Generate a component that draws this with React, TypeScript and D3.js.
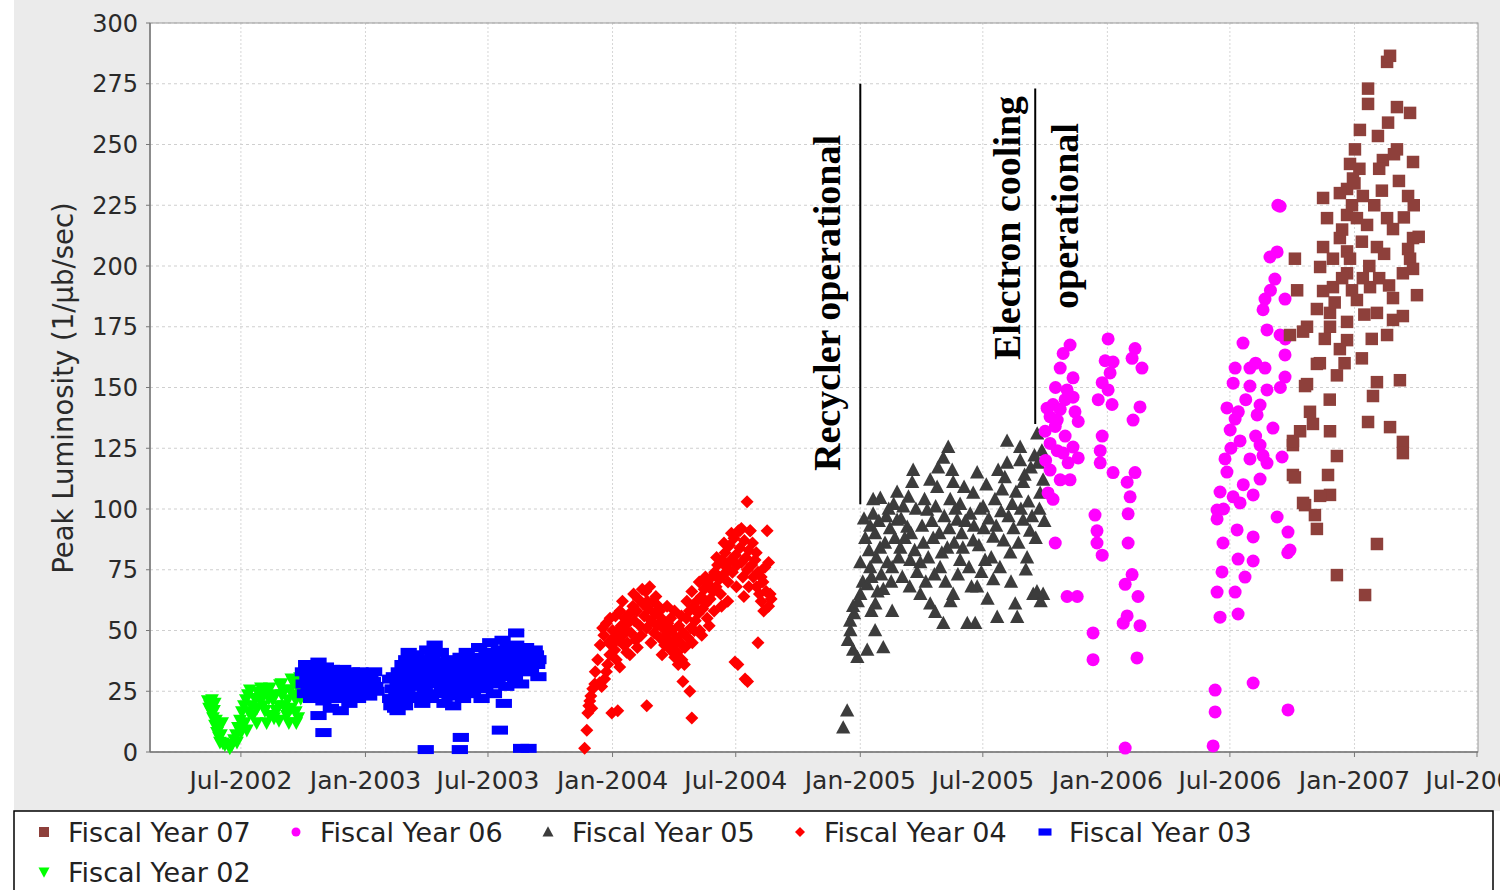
import React from "react";
import * as d3 from "d3";

// ---------- data (date as decimal year, peak luminosity) ----------
const tickLabels = ["Jul-2002", "Jan-2003", "Jul-2003", "Jan-2004", "Jul-2004", "Jan-2005", "Jul-2005", "Jan-2006", "Jul-2006", "Jan-2007", "Jul-2007"];
const yTicks = [0, 25, 50, 75, 100, 125, 150, 175, 200, 225, 250, 275, 300];
const seriesNames = ["Fiscal Year 07", "Fiscal Year 06", "Fiscal Year 05", "Fiscal Year 04", "Fiscal Year 03", "Fiscal Year 02"];
const yLabel = "Peak Luminosity (1/\u03bcb/sec)";

const fy02: [number, number][] = [
  [2002.362, 21], [2002.371, 19], [2002.375, 16.5], [2002.383, 14], [2002.391, 11], [2002.399, 8], [2002.407, 6], [2002.411, 4],
  [2002.367, 18], [2002.379, 21.5], [2002.387, 17], [2002.395, 13], [2002.403, 10], [2002.415, 7], [2002.423, 3.7],
  [2002.431, 3], [2002.451, 1.6], [2002.46, 3], [2002.468, 5],
  [2002.476, 7], [2002.484, 10], [2002.492, 13], [2002.5, 16.5], [2002.508, 19], [2002.516, 21.5], [2002.524, 23.5], [2002.532, 25.5],
  [2002.48, 4], [2002.496, 8], [2002.512, 12], [2002.528, 16.5], [2002.54, 19], [2002.553, 22], [2002.565, 24.5], [2002.577, 26.3],
  [2002.544, 15], [2002.561, 18], [2002.573, 21.5], [2002.589, 23.5], [2002.601, 25.5], [2002.613, 26.3], [2002.625, 21.5],
  [2002.638, 17], [2002.65, 19], [2002.662, 23.5], [2002.674, 25.5], [2002.686, 21.5], [2002.698, 18], [2002.71, 23.5],
  [2002.722, 27.6], [2002.735, 30.5], [2002.743, 29], [2002.593, 17], [2002.613, 15], [2002.633, 23.5], [2002.654, 27.6],
  [2002.67, 19], [2002.682, 15], [2002.694, 25.5], [2002.706, 29], [2002.718, 21.5], [2002.731, 25.5], [2002.743, 31.7],
  [2002.585, 19], [2002.609, 22], [2002.65, 13], [2002.682, 16.5], [2002.718, 16.5],
  [2002.6, 12], [2002.63, 14], [2002.66, 28], [2002.69, 12], [2002.72, 12], [2002.7, 30], [2002.56, 12], [2002.52, 9],
  [2002.39, 20], [2002.42, 12], [2002.738, 22], [2002.728, 14],
];

const fy03: [number, number][] = [
  [2002.747, 33], [2002.75, 28], [2002.755, 24], [2002.76, 36], [2002.765, 30], [2002.77, 26], [2002.775, 33], [2002.78, 22],
  [2002.785, 29], [2002.79, 35], [2002.795, 27], [2002.8, 31], [2002.805, 24], [2002.81, 37], [2002.815, 29], [2002.82, 33],
  [2002.825, 26], [2002.83, 21], [2002.835, 30], [2002.84, 35], [2002.845, 27], [2002.85, 32], [2002.855, 24], [2002.86, 29],
  [2002.865, 34], [2002.87, 27], [2002.875, 31], [2002.88, 22], [2002.885, 28], [2002.89, 33], [2002.895, 25], [2002.9, 30],
  [2002.905, 27], [2002.91, 34], [2002.915, 23], [2002.92, 29], [2002.925, 32], [2002.93, 26], [2002.935, 20], [2002.94, 30],
  [2002.945, 33], [2002.95, 28], [2002.955, 25], [2002.96, 31], [2002.965, 27], [2002.97, 22], [2002.975, 29], [2002.98, 33],
  [2002.985, 26], [2002.99, 30], [2002.995, 24], [2003.0, 28], [2003.005, 32], [2003.01, 27], [2003.015, 23], [2003.02, 30],
  [2003.025, 26], [2003.03, 29], [2003.035, 33], [2003.04, 27], [2003.045, 25],
  [2002.81, 15], [2002.83, 8], [2002.86, 18], [2002.9, 17],
  [2003.1, 30], [2003.1, 22], [2003.105, 19], [2003.11, 26], [2003.115, 31], [2003.12, 18], [2003.125, 24], [2003.13, 29],
  [2003.135, 33], [2003.14, 21], [2003.145, 26], [2003.15, 36], [2003.155, 30], [2003.16, 19], [2003.165, 38], [2003.17, 25],
  [2003.175, 41], [2003.18, 33], [2003.185, 22], [2003.19, 28], [2003.195, 36], [2003.2, 31], [2003.205, 40], [2003.21, 23],
  [2003.215, 27], [2003.22, 34], [2003.225, 38], [2003.23, 20], [2003.235, 30], [2003.24, 25], [2003.245, 36], [2003.25, 42],
  [2003.255, 33], [2003.26, 28], [2003.265, 22], [2003.27, 39], [2003.275, 31], [2003.28, 44], [2003.285, 35], [2003.29, 24],
  [2003.295, 29], [2003.3, 37], [2003.305, 41], [2003.31, 26], [2003.315, 32], [2003.32, 20], [2003.325, 35], [2003.33, 28],
  [2003.335, 38], [2003.34, 23], [2003.345, 31], [2003.35, 34], [2003.355, 19], [2003.36, 27], [2003.365, 36], [2003.37, 30],
  [2003.375, 25], [2003.38, 33], [2003.385, 39], [2003.39, 28], [2003.395, 22], [2003.4, 36], [2003.405, 31], [2003.41, 41],
  [2003.415, 26], [2003.42, 34], [2003.425, 29], [2003.43, 37], [2003.435, 24], [2003.44, 32], [2003.445, 39], [2003.45, 27],
  [2003.455, 35], [2003.46, 43], [2003.465, 30], [2003.47, 22], [2003.475, 38], [2003.48, 33], [2003.485, 26], [2003.49, 41],
  [2003.495, 36], [2003.5, 29], [2003.505, 45], [2003.51, 38], [2003.515, 32], [2003.52, 24], [2003.525, 40], [2003.53, 35],
  [2003.535, 28], [2003.54, 42], [2003.545, 37], [2003.55, 31], [2003.555, 46], [2003.56, 39], [2003.565, 34], [2003.57, 27],
  [2003.575, 43], [2003.58, 38], [2003.61, 49], [2003.59, 33], [2003.595, 41], [2003.6, 36], [2003.605, 30], [2003.61, 44],
  [2003.615, 39], [2003.62, 35], [2003.625, 42], [2003.63, 28], [2003.635, 37], [2003.64, 40], [2003.645, 33], [2003.65, 43],
  [2003.655, 38], [2003.66, 36], [2003.665, 41], [2003.67, 34], [2003.675, 39], [2003.68, 37], [2003.685, 42], [2003.69, 40],
  [2003.695, 36], [2003.7, 38], [2003.7, 31],
  [2003.244, 1], [2003.382, 1], [2003.386, 6], [2003.544, 9], [2003.63, 1.5], [2003.66, 1.5], [2003.56, 20], [2003.13, 17],
];

const fy04: [number, number][] = [
  [2003.887, 1.5], [2003.896, 9], [2003.9, 16], [2003.904, 19], [2003.908, 21], [2003.912, 23], [2003.916, 18], [2003.92, 26],
  [2003.928, 28], [2003.948, 28.5], [2003.956, 27], [2003.968, 30], [2003.96, 51], [2003.975, 33], [2003.98, 36], [2003.989, 40],
  [2003.997, 44], [2004.005, 47], [2004.009, 42], [2004.015, 38], [2004.021, 50], [2004.025, 46], [2004.029, 35], [2004.035, 52],
  [2004.041, 48], [2004.045, 44], [2004.049, 55], [2004.055, 50], [2004.057, 41], [2004.062, 53], [2004.069, 57], [2004.075, 49],
  [2004.082, 60], [2004.088, 54], [2004.094, 46], [2004.098, 58], [2004.104, 63], [2004.11, 52], [2004.116, 48], [2004.122, 61],
  [2004.128, 56], [2004.134, 66], [2004.138, 51], [2004.144, 59], [2004.15, 68], [2004.156, 54], [2004.163, 62], [2004.168, 49],
  [2004.171, 57], [2004.18, 52], [2004.185, 60], [2004.191, 47], [2004.197, 55], [2004.203, 51], [2004.21, 44], [2004.216, 48],
  [2004.223, 53], [2004.228, 46], [2004.234, 42], [2004.24, 50], [2004.246, 44], [2004.251, 39], [2004.257, 47], [2004.262, 41],
  [2004.268, 52], [2004.274, 45], [2004.28, 38], [2004.286, 49], [2004.292, 43], [2004.298, 55], [2004.304, 47], [2004.31, 58],
  [2004.316, 51], [2004.322, 45], [2004.328, 60], [2004.334, 54], [2004.34, 62], [2004.346, 57], [2004.352, 50], [2004.358, 64],
  [2004.364, 59], [2004.37, 67], [2004.376, 61], [2004.382, 55], [2004.388, 69], [2004.394, 63], [2004.4, 72], [2004.406, 66],
  [2004.412, 74], [2004.418, 68], [2004.424, 77], [2004.43, 71], [2004.436, 65], [2004.442, 79], [2004.448, 73], [2004.454, 82],
  [2004.46, 76], [2004.466, 70], [2004.472, 85], [2004.478, 79], [2004.484, 74], [2004.49, 88], [2004.496, 81], [2004.502, 77],
  [2004.508, 91], [2004.514, 84], [2004.52, 78], [2004.526, 72], [2004.532, 87], [2004.538, 80], [2004.544, 75], [2004.55, 83],
  [2004.556, 91], [2004.562, 77], [2004.568, 72], [2004.575, 79], [2004.581, 68], [2004.587, 74], [2004.593, 65], [2004.6, 62],
  [2004.607, 70], [2004.615, 76], [2004.624, 91], [2004.63, 60], [2004.636, 65], [2004.64, 63],
  [2003.997, 16], [2004.021, 17], [2004.138, 19], [2004.284, 29], [2004.312, 25], [2004.32, 14], [2004.494, 37], [2004.506, 36],
  [2004.535, 30], [2004.545, 29], [2004.587, 45], [2004.543, 103], [2004.514, 91], [2004.555, 91],
  [2003.93, 33], [2003.94, 38], [2003.95, 44], [2003.965, 48], [2003.975, 53], [2003.985, 45], [2003.99, 55], [2004.0, 50],
  [2004.012, 56], [2004.03, 58], [2004.04, 62], [2004.06, 45], [2004.07, 40], [2004.085, 65], [2004.1, 43], [2004.12, 67],
  [2004.14, 62], [2004.155, 45], [2004.175, 64], [2004.19, 58], [2004.2, 40], [2004.22, 60], [2004.235, 55], [2004.25, 58],
  [2004.265, 36], [2004.278, 56], [2004.29, 36], [2004.3, 62], [2004.32, 66], [2004.33, 50], [2004.35, 70], [2004.36, 48],
  [2004.375, 72], [2004.39, 52], [2004.41, 58], [2004.42, 80], [2004.44, 60], [2004.45, 86], [2004.465, 62], [2004.48, 90],
  [2004.5, 68], [2004.52, 92], [2004.53, 64], [2004.55, 68], [2004.565, 86], [2004.58, 82], [2004.6, 72], [2004.61, 58],
  [2004.62, 66], [2004.63, 78],
];

const fy05: [number, number][] = [
  [2004.931, 10], [2004.947, 17], [2004.988, 39], [2004.971, 42], [2004.95, 46], [2004.959, 54], [2004.971, 60], [2005.0, 65],
  [2005.028, 69], [2005.0, 78], [2005.04, 76], [2005.04, 93], [2005.052, 98], [2005.052, 104], [2005.081, 104.5], [2005.028, 42],
  [2005.093, 43], [2005.061, 61], [2005.093, 67], [2005.129, 58], [2005.129, 76], [2005.149, 95.5], [2005.149, 107], [2005.174, 101],
  [2005.19, 92.6], [2005.162, 84], [2005.202, 79], [2005.214, 116], [2005.21, 111], [2005.243, 78], [2005.243, 65], [2005.271, 99.6],
  [2005.283, 61], [2005.283, 112], [2005.311, 109], [2005.303, 57.6], [2005.336, 53], [2005.323, 76], [2005.356, 125.5], [2005.336, 121],
  [2005.315, 117], [2005.364, 104], [2005.372, 116], [2005.376, 111], [2005.352, 84], [2005.376, 65], [2005.392, 95.5], [2005.404, 79],
  [2005.404, 102], [2005.433, 53], [2005.465, 53], [2005.473, 115], [2005.457, 106.6], [2005.457, 87], [2005.473, 68], [2005.497, 101],
  [2005.505, 79], [2005.538, 88.5], [2005.538, 71], [2005.554, 55.5], [2005.558, 116], [2005.574, 108], [2005.594, 119], [2005.594, 128],
  [2005.615, 102], [2005.607, 82], [2005.627, 61], [2005.635, 55.5], [2005.647, 125.5], [2005.647, 120], [2005.659, 111], [2005.659, 95.5],
  [2005.675, 80], [2005.687, 91], [2005.7, 65], [2005.716, 131], [2005.72, 119], [2005.728, 106.6], [2005.74, 65],
  [2004.96, 50], [2004.975, 57], [2004.99, 62], [2005.01, 70], [2005.02, 88], [2005.035, 83], [2005.045, 72], [2005.06, 90],
  [2005.065, 80], [2005.075, 95], [2005.085, 73], [2005.1, 86], [2005.105, 97], [2005.11, 78], [2005.12, 92], [2005.125, 70],
  [2005.135, 102], [2005.14, 88], [2005.155, 80], [2005.165, 96], [2005.17, 72], [2005.18, 88], [2005.195, 105], [2005.2, 68],
  [2005.205, 90], [2005.22, 83], [2005.225, 100], [2005.23, 74], [2005.25, 93], [2005.255, 86], [2005.26, 104], [2005.265, 70],
  [2005.275, 80], [2005.29, 95], [2005.295, 88], [2005.3, 73], [2005.305, 101], [2005.32, 90], [2005.33, 82], [2005.34, 97],
  [2005.345, 70], [2005.36, 92], [2005.365, 62], [2005.38, 86], [2005.385, 100], [2005.395, 73], [2005.41, 90], [2005.415, 84],
  [2005.42, 109], [2005.425, 95], [2005.44, 76], [2005.445, 98], [2005.45, 68], [2005.46, 93], [2005.48, 85], [2005.485, 100],
  [2005.49, 74], [2005.5, 92], [2005.51, 110], [2005.515, 63], [2005.52, 96], [2005.53, 80], [2005.545, 104], [2005.55, 93],
  [2005.565, 76], [2005.57, 99], [2005.58, 87], [2005.585, 113], [2005.6, 97], [2005.61, 70], [2005.62, 92], [2005.63, 107],
  [2005.64, 86], [2005.65, 100], [2005.665, 114], [2005.67, 75], [2005.68, 103], [2005.69, 117], [2005.695, 97], [2005.705, 122],
  [2005.71, 88], [2005.725, 100], [2005.735, 124], [2005.74, 112], [2005.745, 95], [2005.73, 62], [2005.715, 66],
  [2005.015, 96], [2005.07, 66], [2005.045, 58], [2005.115, 100], [2005.06, 50], [2005.08, 84],
];

const fy06: [number, number][] = [
  [2005.849, 167.5], [2005.821, 164], [2005.809, 158], [2005.861, 154], [2005.837, 149], [2005.861, 146], [2005.756, 141.5], [2005.78, 143],
  [2005.809, 141], [2005.768, 138], [2005.797, 136.6], [2005.789, 134], [2005.882, 136], [2005.768, 127], [2005.797, 124], [2005.821, 123],
  [2005.861, 125.5], [2005.882, 121], [2005.841, 119], [2005.849, 112], [2005.76, 106.6], [2005.78, 104], [2005.789, 86], [2005.837, 64],
  [2005.878, 64], [2005.748, 132], [2005.829, 130], [2005.768, 116], [2005.809, 112], [2005.869, 140], [2005.829, 145], [2005.75, 120],
  [2005.79, 150],
  [2006.003, 170], [2005.991, 161], [2006.023, 160.5], [2006.011, 156], [2005.979, 152], [2006.003, 149], [2005.963, 145], [2006.019, 143],
  [2005.979, 130], [2005.971, 124], [2005.971, 119], [2006.023, 115], [2005.95, 97.5], [2005.958, 91], [2005.958, 86], [2005.979, 81],
  [2005.942, 49], [2005.942, 38], [2006.072, 1.6],
  [2006.112, 166], [2006.1, 162], [2006.14, 158], [2006.132, 142], [2006.104, 136.6], [2006.112, 115], [2006.08, 111], [2006.092, 105],
  [2006.084, 98], [2006.084, 86], [2006.1, 73], [2006.072, 69], [2006.124, 64], [2006.08, 56], [2006.064, 53], [2006.132, 52], [2006.12, 38.7],
  [2006.699, 224.6], [2006.687, 205.8], [2006.658, 203.7], [2006.678, 194.6], [2006.638, 186.4], [2006.719, 186.4], [2006.63, 182],
  [2006.646, 173.7], [2006.699, 171.6], [2006.719, 163.4], [2006.549, 168.3], [2006.517, 158], [2006.577, 158], [2006.638, 158],
  [2006.719, 154.3], [2006.509, 151.8], [2006.577, 150.6], [2006.646, 149], [2006.484, 141.6], [2006.618, 142.8], [2006.517, 137],
  [2006.606, 138.7], [2006.497, 132.5], [2006.67, 133.3], [2006.618, 126.3], [2006.537, 128], [2006.476, 120.6], [2006.577, 120.6],
  [2006.646, 118.9], [2006.707, 121.4], [2006.484, 115.2], [2006.618, 112.3], [2006.456, 107], [2006.509, 105], [2006.59, 105.8],
  [2006.444, 99.6], [2006.537, 102.5], [2006.444, 95.9], [2006.687, 96.7], [2006.525, 91.4], [2006.731, 90.5], [2006.468, 86],
  [2006.59, 88.5], [2006.739, 83.1], [2006.529, 79.4], [2006.59, 78.6], [2006.464, 74.1], [2006.557, 72], [2006.444, 65.8],
  [2006.517, 65.8], [2006.456, 55.5], [2006.529, 56.8], [2006.59, 28.4], [2006.436, 25.5], [2006.436, 16.5], [2006.731, 17.3],
  [2006.428, 2.5],
  [2006.69, 225], [2006.66, 190], [2006.6, 160], [2006.56, 145], [2006.53, 140], [2006.6, 130], [2006.63, 122], [2006.55, 110],
  [2006.5, 125], [2006.47, 100], [2006.7, 150], [2006.72, 170], [2006.73, 82],
];

const fy07: [number, number][] = [
  [2007.132, 284], [2007.144, 286.5], [2007.055, 273], [2007.055, 266.7], [2007.172, 265.4], [2007.225, 263], [2007.136, 259],
  [2007.022, 256], [2007.095, 253.5], [2007.002, 248], [2007.172, 248], [2007.115, 243.6], [2007.237, 242.8], [2006.982, 242],
  [2006.994, 236], [2006.97, 231.7], [2006.873, 228], [2006.941, 230], [2007.034, 228.8], [2007.111, 231], [2007.217, 228.8],
  [2006.889, 219.7], [2006.97, 221], [2007.01, 219.7], [2007.051, 216.9], [2007.132, 219.7], [2007.156, 215.2], [2006.941, 211.5],
  [2007.237, 211.5], [2006.873, 207.8], [2006.97, 206], [2007.091, 207.8], [2007.217, 207], [2006.913, 203], [2006.982, 203],
  [2006.861, 199.6], [2007.225, 203], [2006.97, 197], [2007.034, 195], [2007.196, 197], [2007.237, 198.8], [2006.873, 189.7],
  [2006.913, 191.3], [2007.063, 191.3], [2007.01, 186], [2007.156, 186.8], [2007.253, 188], [2006.848, 182.3], [2006.901, 180.7],
  [2007.091, 180.7], [2007.156, 177.8], [2007.196, 179.4], [2006.808, 175], [2006.901, 175], [2006.97, 177], [2007.132, 171.6],
  [2006.739, 171.6], [2006.97, 169.5], [2006.941, 165.8], [2006.848, 159.7], [2006.929, 155], [2006.808, 151.4], [2007.091, 152.2],
  [2007.184, 153], [2007.075, 146.5], [2007.055, 135.8], [2007.144, 133.7], [2007.196, 127.6], [2007.196, 123], [2006.832, 135],
  [2006.78, 132], [2006.901, 132], [2006.751, 126.3], [2006.929, 121.8], [2006.751, 114], [2006.893, 114], [2006.901, 105.8],
  [2006.861, 105.4], [2006.8, 101.6], [2006.84, 97.5], [2006.848, 91.8], [2007.091, 85.6], [2006.929, 72.8], [2007.043, 64.6],
  [2006.759, 203], [2006.768, 190], [2006.792, 173], [2006.8, 150.6], [2006.751, 128], [2006.759, 113], [2006.792, 102.5],
  [2006.95, 215], [2006.99, 225], [2007.02, 240], [2007.03, 210], [2007.06, 200], [2007.08, 225], [2007.1, 240], [2007.12, 205],
  [2007.18, 235], [2007.2, 220], [2006.92, 185], [2006.95, 195], [2007.04, 180], [2007.07, 170], [2006.88, 170], [2006.86, 160],
  [2006.9, 145], [2006.82, 140], [2007.1, 195], [2007.14, 192], [2007.24, 225], [2007.26, 212], [2007.16, 246], [2007.0, 234],
  [2006.96, 160], [2006.99, 190], [2007.03, 162],
];

// annotations
const annoRecycler = { date: 2005.0, low: 102, high: 275, label: ["Recycler operational"] };
const annoCooling = { date: 2005.708, low: 135, high: 273, label: ["Electron cooling", "operational"] };

// ---------- helpers ----------
function toDate(d: number): Date {
  const yr = Math.floor(d);
  const s = new Date(yr, 0, 1).getTime();
  const e = new Date(yr + 1, 0, 1).getTime();
  return new Date(s + (d - yr) * (e - s));
}

const W = 1500;
const H = 890;
const M = { left: 150, right: 1478, top: 23, bottom: 752 };

const shapePaths: Record<string, (s: number) => string> = {
  square: (s) => `M${-s / 2},${-s / 2}h${s}v${s}h${-s}Z`,
  triUp: (s) => `M0,${-s * 0.58}L${s * 0.55},${s * 0.45}L${-s * 0.55},${s * 0.45}Z`,
  diamond: (s) => `M0,${-s / 2}L${s / 2},0L0,${s / 2}L${-s / 2},0Z`,
  dash: (s) => `M${-s * 0.65},${-s * 0.36}h${s * 1.3}v${s * 0.72}h${-s * 1.3}Z`,
  triDown: (s) => `M${-s * 0.55},${-s * 0.45}L${s * 0.55},${-s * 0.45}L0,${s * 0.58}Z`,
};

const series = [
  { name: seriesNames[0], data: fy07, color: "#8e403b", shape: "square", size: 12.5 },
  { name: seriesNames[1], data: fy06, color: "#ff00ff", shape: "circle", size: 13 },
  { name: seriesNames[2], data: fy05, color: "#3c3c3c", shape: "triUp", size: 13 },
  { name: seriesNames[3], data: fy04, color: "#ff0000", shape: "diamond", size: 13 },
  { name: seriesNames[4], data: fy03, color: "#0000ff", shape: "dash", size: 12.5 },
  { name: seriesNames[5], data: fy02, color: "#00ff00", shape: "triDown", size: 12.5 },
];

function Marker({ shape, size, color, x, y }: { shape: string; size: number; color: string; x: number; y: number }) {
  if (shape === "circle") return <circle cx={x} cy={y} r={size / 2} fill={color} />;
  return <path d={shapePaths[shape](size)} transform={`translate(${x},${y})`} fill={color} />;
}

export default function App() {
  const x = d3.scaleTime().domain([toDate(2002.128), toDate(2007.5)]).range([M.left, M.right]);
  const y = d3.scaleLinear().domain([0, 300]).range([M.bottom, M.top]);
  const parseTick = d3.timeParse("%b-%Y");
  const xTicks = tickLabels.map((t) => ({ label: t, date: parseTick(t) as Date }));
  const sans = "'DejaVu Sans', Lato, sans-serif";
  const serif = "'Liberation Serif', 'DejaVu Serif', serif";

  const legendPos = [
    { x: 44, y: 832 }, { x: 296, y: 832 }, { x: 548, y: 832 }, { x: 800, y: 832 }, { x: 1045, y: 832 }, { x: 44, y: 872 },
  ];

  const drawOrder = [...series].reverse();

  return (
    <svg width={W} height={H} style={{ position: "absolute", left: 0, top: 0, background: "#fff" }}>
      <rect x={14} y={0} width={W - 14} height={811} fill="#ebebeb" />
      <rect x={M.left} y={M.top} width={M.right - M.left} height={M.bottom - M.top} fill="#fff" />
      {/* grid */}
      {yTicks.map((t) => (
        <line key={"gy" + t} x1={M.left} x2={M.right} y1={y(t)} y2={y(t)} stroke="#cfcfcf" strokeWidth={1} strokeDasharray="3,3" />
      ))}
      {xTicks.map((t) => (
        <line key={"gx" + t.label} x1={x(t.date)} x2={x(t.date)} y1={M.top} y2={M.bottom} stroke="#d6d6d6" strokeWidth={1} strokeDasharray="2,2" />
      ))}
      <rect x={M.left} y={M.top} width={M.right - M.left} height={M.bottom - M.top} fill="none" stroke="#9a9a9a" strokeWidth={1} />
      {/* axes */}
      <line x1={M.left} x2={M.left} y1={M.top} y2={M.bottom} stroke="#777" strokeWidth={1.5} />
      <line x1={M.left} x2={M.right} y1={M.bottom} y2={M.bottom} stroke="#777" strokeWidth={1.5} />
      {yTicks.map((t) => (
        <g key={"ty" + t}>
          <line x1={M.left - 4} x2={M.left} y1={y(t)} y2={y(t)} stroke="#777" />
          <text x={138} y={y(t)} dy="0.36em" textAnchor="end" fontFamily={sans} fontSize={24} fill="#2a2a2a">{t}</text>
        </g>
      ))}
      {xTicks.map((t) => (
        <g key={"tx" + t.label}>
          <line x1={x(t.date)} x2={x(t.date)} y1={M.bottom} y2={M.bottom + 5} stroke="#777" />
          <text x={x(t.date)} y={789} textAnchor="middle" fontFamily={sans} fontSize={25} fill="#2a2a2a">{t.label}</text>
        </g>
      ))}
      <text transform={`translate(73,388) rotate(-90)`} textAnchor="middle" fontFamily={sans} fontSize={27.5} fill="#2a2a2a">{yLabel}</text>

      {/* points */}
      {drawOrder.map((s) => (
        <g key={s.name}>
          {s.data.map((d, i) => (
            <Marker key={i} shape={s.shape} size={s.size} color={s.color} x={x(toDate(d[0]))} y={y(d[1])} />
          ))}
        </g>
      ))}

      {/* annotations */}
      <line x1={x(toDate(annoRecycler.date))} x2={x(toDate(annoRecycler.date))} y1={y(annoRecycler.low)} y2={y(annoRecycler.high)} stroke="#000" strokeWidth={2} />
      <line x1={x(toDate(annoCooling.date))} x2={x(toDate(annoCooling.date))} y1={y(annoCooling.low)} y2={y(annoCooling.high)} stroke="#000" strokeWidth={2} />
      <text transform="translate(840,303) rotate(-90)" textAnchor="middle" fontFamily={serif} fontWeight="bold" fontSize={38} fill="#000">{annoRecycler.label[0]}</text>
      <text transform="translate(1020,228) rotate(-90)" textAnchor="middle" fontFamily={serif} fontWeight="bold" fontSize={38} fill="#000">{annoCooling.label[0]}</text>
      <text transform="translate(1078,216) rotate(-90)" textAnchor="middle" fontFamily={serif} fontWeight="bold" fontSize={38} fill="#000">{annoCooling.label[1]}</text>

      {/* legend */}
      <rect x={14} y={811} width={1479} height={100} fill="#fff" stroke="#000" strokeWidth={1.5} />
      {series.map((s, i) => (
        <g key={"lg" + s.name}>
          <Marker shape={s.shape} size={s.shape === "circle" ? 9 : 10} color={s.color} x={legendPos[i].x} y={legendPos[i].y} />
          <text x={legendPos[i].x + 24} y={legendPos[i].y + 10} fontFamily={sans} fontSize={27} fill="#222">{s.name}</text>
        </g>
      ))}
    </svg>
  );
}
